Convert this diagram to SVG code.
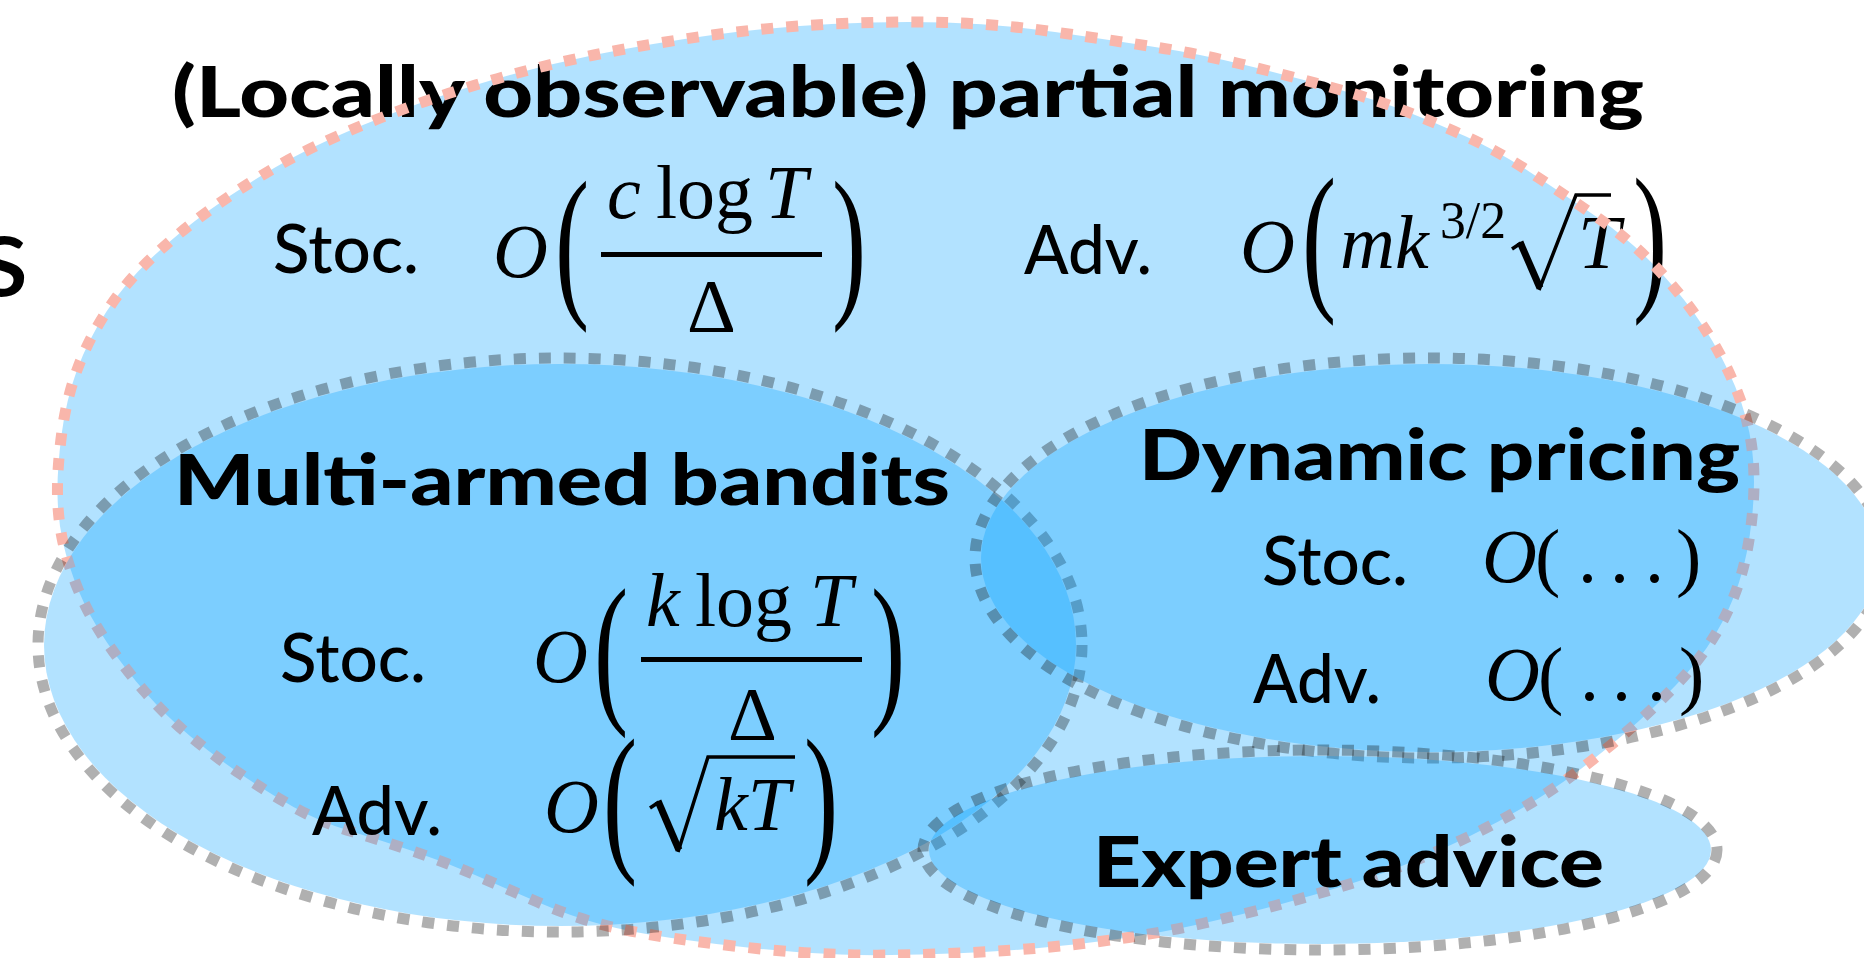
<svg xmlns="http://www.w3.org/2000/svg" width="1864" height="958" viewBox="0 0 1864 958">
<style>
.bg{fill:#ffffff}
.fl{fill:#00a0ff;fill-opacity:.3}
.gs{fill:none;stroke:#0a0a0a;stroke-opacity:.32;stroke-width:11;stroke-dasharray:12 13}
.ps{fill:none;stroke:#f9b6ab;stroke-width:11;stroke-dasharray:12 13}
.lbl{font-family:Lato,"Liberation Sans",sans-serif;font-weight:900;font-size:70px;fill:#000}
.reg{font-family:Lato,"Liberation Sans",sans-serif;font-weight:500;font-size:67px;fill:#000}
.big{font-family:Lato,"Liberation Sans",sans-serif;font-weight:500;font-size:116px;fill:#000}
.m{font-family:"Liberation Serif","Times New Roman",serif;font-size:76px;fill:#000}
.sup{font-family:"Liberation Serif","Times New Roman",serif;font-size:52px;fill:#000}
.mi{font-style:italic}
.bar{fill:#000}
.rt{fill:none;stroke:#000;stroke-width:3.5;stroke-linejoin:miter;stroke-linecap:butt}
.rk{fill:none;stroke:#000;stroke-width:7;stroke-linecap:butt}
</style>
<rect class="bg" x="0" y="0" width="1864" height="958"/>
<text class="big" x="-22" y="296">s</text>
<g id="partial-monitoring">
<path id="pm-shape" class="fl" d="M57.5,495 Q57,470 61.5,435 Q66,400 77,370 Q88,340 106.5,311.5 Q125,283 151.5,258 Q178,233 209,210.5 Q240,188 275,167.5 Q310,147 363,125 Q416,103 475.5,85 Q535,67 594,55 Q653,43 712.5,35 Q772,27 831.5,24 Q891,21 945.5,22.5 Q1000,24 1055,32 Q1110,40 1155,47 Q1200,54 1245,65 Q1290,76 1333.5,88 Q1377,100 1406.5,111.5 Q1436,123 1466,136.5 Q1496,150 1529,171.5 Q1562,193 1597.5,217.5 Q1633,242 1659.5,271 Q1686,300 1704,327.5 Q1722,355 1735,386 Q1748,417 1752,448.5 Q1756,480 1752,517.5 Q1748,555 1739,582.5 Q1730,610 1715,635 Q1700,660 1676,685 Q1652,710 1627,731.5 Q1602,753 1577.5,771.5 Q1553,790 1525,806.5 Q1497,823 1469,836.5 Q1441,850 1413,861.5 Q1385,873 1351.5,883.5 Q1318,894 1281.5,904 Q1245,914 1202.5,923.5 Q1160,933 1118,939 Q1076,945 1034,948.5 Q992,952 936,954 Q880,956 840,954.5 Q800,953 756.5,948.5 Q713,944 671.5,938 Q630,932 600,924 Q570,916 537.5,902 Q505,888 475,875 Q445,862 412.5,851 Q380,840 350,831 Q320,822 293.5,807 Q267,792 240.5,774 Q214,756 190,736 Q166,716 145.5,692.5 Q125,669 107,642.5 Q89,616 78.5,590.5 Q68,565 63,542.5 Q58,520 57.5,495 Z"/>
<text class="lbl" x="172" y="117" textLength="1472" lengthAdjust="spacingAndGlyphs">(Locally observable) partial monitoring</text>
<text class="reg" x="273" y="273" textLength="146" lengthAdjust="spacingAndGlyphs">Stoc.</text>
<text class="m mi" x="493" y="277">O</text>
<text class="m" transform="translate(555,297) scale(1.35,2.2)">(</text>
<text class="m mi" x="607" y="218">c</text>
<text class="m" x="656" y="218">log</text>
<text class="m mi" x="765" y="218">T</text>
<rect class="bar" x="601" y="252" width="221" height="5"/>
<text class="m" x="687" y="332">Δ</text>
<text class="m" transform="translate(832,297) scale(1.35,2.2)">)</text>
<text class="reg" x="1024" y="274" textLength="128" lengthAdjust="spacingAndGlyphs">Adv.</text>
<text class="m mi" x="1240" y="272">O</text>
<text class="m" transform="translate(1302,291) scale(1.35,2.15)">(</text>
<text class="m mi" x="1340" y="268">mk</text>
<text class="sup" x="1440" y="238" textLength="66" lengthAdjust="spacingAndGlyphs">3/2</text>
<g class="radical">
<path class="rt" d="M1512,249 L1521,243"/>
<path class="rk" d="M1520,242 L1540,288"/>
<path class="rt" d="M1539,290 L1576,195 L1611,195"/>
</g>
<text class="m mi" x="1578" y="268">T</text>
<text class="m" transform="translate(1633,291) scale(1.35,2.15)">)</text>
<path class="ps" d="M57.5,495 Q57,470 61.5,435 Q66,400 77,370 Q88,340 106.5,311.5 Q125,283 151.5,258 Q178,233 209,210.5 Q240,188 275,167.5 Q310,147 363,125 Q416,103 475.5,85 Q535,67 594,55 Q653,43 712.5,35 Q772,27 831.5,24 Q891,21 945.5,22.5 Q1000,24 1055,32 Q1110,40 1155,47 Q1200,54 1245,65 Q1290,76 1333.5,88 Q1377,100 1406.5,111.5 Q1436,123 1466,136.5 Q1496,150 1529,171.5 Q1562,193 1597.5,217.5 Q1633,242 1659.5,271 Q1686,300 1704,327.5 Q1722,355 1735,386 Q1748,417 1752,448.5 Q1756,480 1752,517.5 Q1748,555 1739,582.5 Q1730,610 1715,635 Q1700,660 1676,685 Q1652,710 1627,731.5 Q1602,753 1577.5,771.5 Q1553,790 1525,806.5 Q1497,823 1469,836.5 Q1441,850 1413,861.5 Q1385,873 1351.5,883.5 Q1318,894 1281.5,904 Q1245,914 1202.5,923.5 Q1160,933 1118,939 Q1076,945 1034,948.5 Q992,952 936,954 Q880,956 840,954.5 Q800,953 756.5,948.5 Q713,944 671.5,938 Q630,932 600,924 Q570,916 537.5,902 Q505,888 475,875 Q445,862 412.5,851 Q380,840 350,831 Q320,822 293.5,807 Q267,792 240.5,774 Q214,756 190,736 Q166,716 145.5,692.5 Q125,669 107,642.5 Q89,616 78.5,590.5 Q68,565 63,542.5 Q58,520 57.5,495 Z"/>
</g>
<g id="multi-armed-bandits">
<ellipse class="fl" cx="560" cy="645" rx="516" ry="281"/>
<ellipse class="gs" cx="560" cy="645" rx="522" ry="287"/>
<text class="lbl" x="174" y="505" textLength="776" lengthAdjust="spacingAndGlyphs">Multi-armed bandits</text>
<text class="reg" x="280" y="682" textLength="146" lengthAdjust="spacingAndGlyphs">Stoc.</text>
<text class="m mi" x="533" y="682">O</text>
<text class="m" transform="translate(594,703) scale(1.35,2.17)">(</text>
<text class="m mi" x="646" y="626">k</text>
<text class="m" x="695" y="626">log</text>
<text class="m mi" x="810" y="626">T</text>
<rect class="bar" x="641" y="657" width="221" height="5"/>
<text class="m" x="728" y="740">Δ</text>
<text class="m" transform="translate(871,703) scale(1.35,2.17)">)</text>
<text class="reg" x="312" y="835" textLength="130" lengthAdjust="spacingAndGlyphs">Adv.</text>
<text class="m mi" x="544" y="832">O</text>
<text class="m" transform="translate(603,852) scale(1.35,2.15)">(</text>
<g class="radical">
<path class="rt" d="M650,808 L659,802"/>
<path class="rk" d="M658,801 L679,850"/>
<path class="rt" d="M678,852 L708,757 L795,757"/>
</g>
<text class="m mi" x="714" y="830">kT</text>
<text class="m" transform="translate(804,852) scale(1.35,2.15)">)</text>
</g>
<g id="dynamic-pricing">
<ellipse class="fl" cx="1430" cy="558" rx="449" ry="194"/>
<ellipse class="gs" cx="1430" cy="558" rx="455" ry="200"/>
<text class="lbl" x="1139" y="480" textLength="601" lengthAdjust="spacingAndGlyphs">Dynamic pricing</text>
<text class="reg" x="1262" y="585" textLength="146" lengthAdjust="spacingAndGlyphs">Stoc.</text>
<text class="m mi" x="1482" y="582">O</text>
<text class="m" x="1535" y="582">(</text>
<text class="m" x="1578 1610 1645" y="582">...</text>
<text class="m" x="1676" y="582">)</text>
<text class="reg" x="1253" y="703" textLength="128" lengthAdjust="spacingAndGlyphs">Adv.</text>
<text class="m mi" x="1485" y="700">O</text>
<text class="m" x="1538" y="700">(</text>
<text class="m" x="1580 1612 1647" y="700">...</text>
<text class="m" x="1679" y="700">)</text>
</g>
<g id="expert-advice">
<ellipse class="fl" cx="1320" cy="850" rx="391" ry="94"/>
<ellipse class="gs" cx="1320" cy="850" rx="397" ry="100"/>
<text class="lbl" x="1093" y="887" textLength="511" lengthAdjust="spacingAndGlyphs">Expert advice</text>
</g>
<g id="connectors"></g>
</svg>
